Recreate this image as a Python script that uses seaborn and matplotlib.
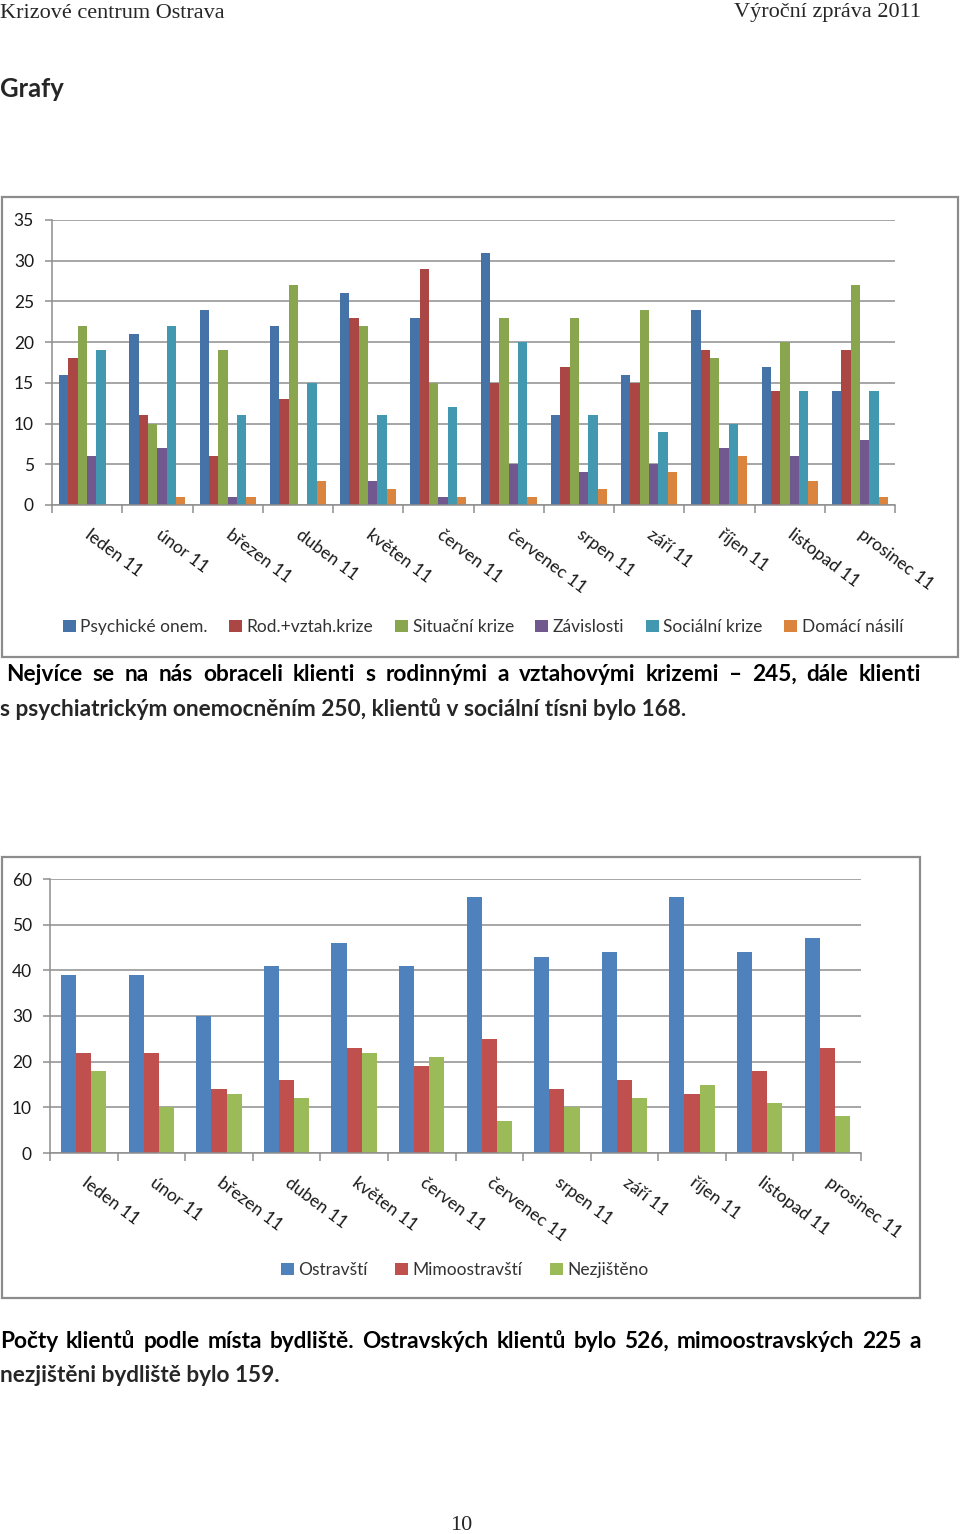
import numpy as np
import pandas as pd
import matplotlib
matplotlib.use("Agg")
import matplotlib.pyplot as plt
import matplotlib.transforms as mtransforms
from matplotlib.patches import Rectangle, Patch
import seaborn as sns

# ---------------- data ----------------
months = ["leden 11", "únor 11", "březen 11", "duben 11", "květen 11", "červen 11",
          "červenec 11", "srpen 11", "září 11", "říjen 11", "listopad 11", "prosinec 11"]

series1 = ["Psychické onem.", "Rod.+vztah.krize", "Situační krize",
           "Závislosti", "Sociální krize", "Domácí násilí"]
psychicke = [16, 21, 24, 22, 26, 23, 31, 11, 16, 24, 17, 14]
rod_vztah = [18, 11, 6, 13, 23, 29, 15, 17, 15, 19, 14, 19]
situacni = [22, 10, 19, 27, 22, 15, 23, 23, 24, 18, 20, 27]
zavislosti = [6, 7, 1, 0, 3, 1, 5, 4, 5, 7, 6, 8]
socialni = [19, 22, 11, 15, 11, 12, 20, 11, 9, 10, 14, 14]
domaci = [0, 1, 1, 3, 2, 1, 1, 2, 4, 6, 3, 1]
colors1 = ["#4572A7", "#AA4643", "#89A54E", "#71588F", "#4198AF", "#DB843D"]
yticks1 = [0, 5, 10, 15, 20, 25, 30, 35]

series2 = ["Ostravští", "Mimoostravští", "Nezjištěno"]
ostravsti = [39, 39, 30, 41, 46, 41, 56, 43, 44, 56, 44, 47]
mimoostravsti = [22, 22, 14, 16, 23, 19, 25, 14, 16, 13, 18, 23]
nezjisteno = [18, 10, 13, 12, 22, 21, 7, 10, 12, 15, 11, 8]
colors2 = ["#4F81BD", "#C0504D", "#9BBB59"]
yticks2 = [0, 10, 20, 30, 40, 50, 60]

header_left = "Krizové centrum Ostrava"
header_right = "Výroční zpráva 2011"
heading = "Grafy"
para1 = ["Nejvíce se na nás obraceli klienti s rodinnými a vztahovými krizemi – 245, dále klienti",
         "s psychiatrickým onemocněním 250, klientů v sociální tísni bylo 168."]
para2 = ["Počty klientů podle místa bydliště. Ostravských klientů bylo 526, mimoostravských 225 a",
         "nezjištěni bydliště bylo 159."]
page_no = "10"

df1 = pd.DataFrame({"month": np.tile(months, 6),
                    "series": np.repeat(series1, 12),
                    "value": psychicke + rod_vztah + situacni + zavislosti + socialni + domaci})
df2 = pd.DataFrame({"month": np.tile(months, 3),
                    "series": np.repeat(series2, 12),
                    "value": ostravsti + mimoostravsti + nezjisteno})

# ---------------- figure ----------------
sns.set_theme(style="white")
plt.rcParams["font.family"] = ["Lato", "DejaVu Sans"]
W, H = 960, 1534
fig = plt.figure(figsize=(W / 100, H / 100), dpi=100)
renderer = fig.canvas.get_renderer()

def fx(x):
    return x / W

def fy(y):
    return 1 - y / H

def text_width(s, size, family, weight):
    t = fig.text(0, 0, s, fontsize=size, family=family, weight=weight)
    w = t.get_window_extent(renderer).width
    t.remove()
    return w

def fit_size(s, target, family, weight):
    return 10 * target / text_width(s, 10, family, weight)

def justified(line, x0, x1, y, size, family, weight):
    words = line.split(" ")
    widths = [text_width(w, size, family, weight) for w in words]
    gap = (x1 - x0 - sum(widths)) / (len(words) - 1)
    x = x0
    for w, wd in zip(words, widths):
        fig.text(fx(x), fy(y), w, fontsize=size, family=family, weight=weight,
                 va="center", ha="left", color="black")
        x += wd + gap

# header
serif = ["Liberation Serif", "DejaVu Serif"]
hs = fit_size(header_left, 226, serif, "normal")
fig.text(fx(0), fy(13), header_left, fontsize=hs, family=serif, va="center", ha="left")
fig.text(fx(921), fy(13), header_right, fontsize=hs, family=serif, va="center", ha="right")
gs = fit_size(heading, 64, ["Lato"], "bold")
fig.text(fx(0), fy(89), heading, fontsize=gs, family=["Lato"], weight="bold", va="center", ha="left")

# paragraphs
bold_family = ["Lato", "DejaVu Sans"]
ps = fit_size(para1[1], 690, bold_family, "bold")
justified(para1[0], 6, 921, 674, ps, bold_family, "bold")
fig.text(fx(0), fy(709), para1[1], fontsize=ps, family=bold_family, weight="bold", va="center", ha="left")
justified(para2[0], 0, 921, 1341, ps, bold_family, "bold")
fig.text(fx(0), fy(1375), para2[1], fontsize=ps, family=bold_family, weight="bold", va="center", ha="left")

fig.text(fx(461), fy(1526), page_no, fontsize=hs, family=serif, va="center", ha="center")

# frames
frame_col = "#8C8C8C"
fig.patches.append(Rectangle((fx(2), fy(657)), fx(956), 460 / H, transform=fig.transFigure,
                             fill=False, edgecolor=frame_col, linewidth=1.6))
fig.patches.append(Rectangle((fx(2), fy(1298)), fx(918), 441 / H, transform=fig.transFigure,
                             fill=False, edgecolor=frame_col, linewidth=1.6))

grid_col = "#8E8E8E"
tick_size = 12.5

def style_axes(ax, yticks):
    ax.set_ylim(yticks[0], yticks[-1])
    ax.set_yticks(yticks)
    ax.set_xlim(-0.5, len(months) - 0.5)
    ax.grid(axis="y", color=grid_col, linewidth=1.1)
    ax.set_axisbelow(True)
    for s in ["top", "right"]:
        ax.spines[s].set_visible(False)
    for s in ["left", "bottom"]:
        ax.spines[s].set_color(grid_col)
        ax.spines[s].set_linewidth(1.1)
    ax.set_xlabel("")
    ax.set_ylabel("")
    ax.tick_params(axis="y", length=5, width=1.1, color=grid_col, pad=8,
                   labelsize=tick_size, labelcolor="#1a1a1a", left=True)
    ax.tick_params(axis="x", which="major", length=0, pad=14, labelsize=tick_size,
                   labelcolor="#1a1a1a")
    ax.set_xticks(np.arange(-0.5, len(months), 1.0), minor=True)
    ax.tick_params(axis="x", which="minor", length=6, width=1.1, color=grid_col, bottom=True)
    ax.set_xticks(range(len(months)))
    ax.set_xticklabels(months, rotation=-37, ha="left", va="top", rotation_mode="anchor")
    offset = mtransforms.ScaledTranslation(5 / 100, -2 / 100, fig.dpi_scale_trans)
    for lbl in ax.get_xticklabels():
        lbl.set_transform(lbl.get_transform() + offset)

# chart 1
ax1 = fig.add_axes([fx(52), fy(505), 843 / W, 285 / H])
sns.barplot(data=df1, x="month", y="value", hue="series", hue_order=series1,
            order=months, palette=colors1, saturation=1, width=0.8,
            linewidth=0, edgecolor="none", legend=False, ax=ax1, errorbar=None)
style_axes(ax1, yticks1)
handles1 = [Patch(facecolor=c, edgecolor="none") for c in colors1]
fig.legend(handles1, series1, loc="center", bbox_to_anchor=(fx(483), fy(627)), ncol=6,
           frameon=False, fontsize=tick_size, handlelength=0.75, handleheight=0.75,
           handletextpad=0.25, columnspacing=1.25, labelcolor="#333333")

# chart 2
ax2 = fig.add_axes([fx(50), fy(1153), 811 / W, 274 / H])
sns.barplot(data=df2, x="month", y="value", hue="series", hue_order=series2,
            order=months, palette=colors2, saturation=1, width=0.67,
            linewidth=0, edgecolor="none", legend=False, ax=ax2, errorbar=None)
style_axes(ax2, yticks2)
handles2 = [Patch(facecolor=c, edgecolor="none") for c in colors2]
fig.legend(handles2, series2, loc="center", bbox_to_anchor=(fx(465), fy(1270)), ncol=3,
           frameon=False, fontsize=tick_size, handlelength=0.75, handleheight=0.75,
           handletextpad=0.25, columnspacing=1.6, labelcolor="#333333")

fig.savefig("out.png", dpi=100)
